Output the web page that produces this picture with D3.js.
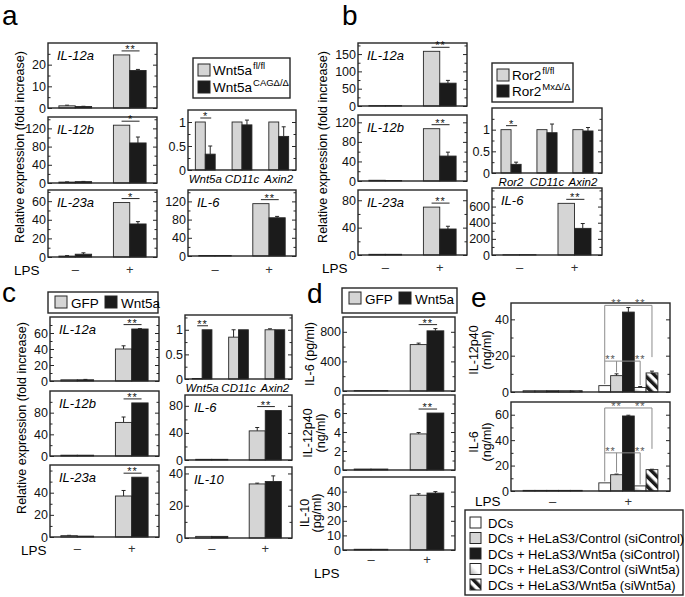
<!DOCTYPE html>
<html><head><meta charset="utf-8">
<script src="https://cdn.jsdelivr.net/npm/d3@7"></script>
<style>
body { margin: 0; background: #fff; }
svg { font-family: "Liberation Sans", Arial, sans-serif; }
</style></head><body>
<svg id="fig" width="685" height="597"></svg>
<script>
// group labels
const lps = ['–', '+'];
const genesA = ['Wnt5a', 'CD11c', 'Axin2'];
const genesB = ['Ror2', 'CD11c', 'Axin2'];
const genesC = ['Wnt5a', 'CD11c', 'Axin2'];
const legendE = ['DCs', 'DCs + HeLaS3/Control (siControl)', 'DCs + HeLaS3/Wnt5a (siControl)',
  'DCs + HeLaS3/Control (siWnt5a)', 'DCs + HeLaS3/Wnt5a (siWnt5a)'];

// values are [group][series], errors the same shape
const aIL12a = [[1.0, 0.7], [24.5, 17.3]], aIL12aErr = [[0.3, 0.1], [0, 0.5]];
const aIL12b = [[2, 3], [127, 88]], aIL12bErr = [[0.5, 0.5], [0, 13]];
const aIL23a = [[1, 3], [58.5, 35.5]], aIL23aErr = [[0.5, 1.5], [0, 2.5]];
const aGenes = [[1, 0.33], [1, 0.94], [1, 0.7]], aGenesErr = [[0, 0.17], [0, 0.1], [0, 0.2]];
const aIL6 = [[1, 1], [115, 84]], aIL6Err = [[0, 0], [0, 3]];

const bIL12a = [[1, 1], [158, 66]], bIL12aErr = [[0, 0], [0, 8]];
const bIL12b = [[1.5, 1], [107, 51]], bIL12bErr = [[0, 0], [0, 8]];
const bIL23a = [[1, 1], [70, 38]], bIL23aErr = [[0, 0], [0, 4]];
const bGenes = [[1, 0.2], [1, 0.93], [1, 0.97]], bGenesErr = [[0, 0.05], [0, 0.2], [0, 0.08]];
const bIL6 = [[3, 3], [640, 330]], bIL6Err = [[0, 0], [0, 60]];

const cIL12a = [[1.5, 1.5], [40, 65]], cIL12aErr = [[0, 0.5], [4, 0.5]];
const cIL12b = [[1.5, 1.5], [62, 98]], cIL12bErr = [[0, 0], [10, 0]];
const cIL23a = [[1.2, 0.8], [37, 54]], cIL23aErr = [[0.3, 0], [5, 0]];
const cGenes = [[0.01, 1], [0.85, 1], [1, 1]], cGenesErr = [[0, 0], [0.15, 0], [0.02, 0]];
const cIL6 = [[1, 1], [43, 73]], cIL6Err = [[0, 0], [5, 0]];
const cIL10 = [[1, 1], [33.5, 35]], cIL10Err = [[0, 0], [0.5, 3.5]];

const dIL6 = [[5, 5], [627, 813]], dIL6Err = [[0, 0], [20, 30]];
const dIL12p40 = [[0.1, 0.1], [3.8, 6.0]], dIL12p40Err = [[0, 0], [0.15, 0]];
const dIL10 = [[0.5, 0.5], [37.5, 39]], dIL10Err = [[0, 0], [1, 1]];

const eIL12p40 = [[0.7, 0.7, 0.7, 0.7, 0.7], [3.5, 9, 44, 2.5, 10.5]];
const eIL12p40Err = [[0, 0, 0, 0, 0], [0, 1, 2.5, 0.5, 1]];
const eIL6 = [[0.5, 0.5, 0.5, 0.5, 0.5], [6.4, 12.8, 59, 4, 16.8]];
const eIL6Err = [[0, 0, 0, 0, 0], [0, 0.5, 0.6, 0, 0.3]];
// significance bracket heights for panel e (upper, lower), in data units
const eBrk12 = [47.7, 17], eBrk6 = [65.3, 30];

const svg = d3.select('#fig');
const LINE = '#262626', GRAY = '#d5d5d5', BLACK = '#1b1b1b', BRK = '#8c8c8c';
const TICK_FS = 12.5;

// fills for panel e
const defs = svg.append('defs');
const grad = defs.append('linearGradient').attr('id', 'fade').attr('x1', 0).attr('y1', 1).attr('x2', 1).attr('y2', 0);
grad.append('stop').attr('offset', 0).attr('stop-color', '#a8a8a8');
grad.append('stop').attr('offset', 0.5).attr('stop-color', '#fff');
grad.append('stop').attr('offset', 1).attr('stop-color', '#fff');
const hatch = defs.append('pattern').attr('id', 'hatch').attr('patternUnits', 'userSpaceOnUse')
  .attr('width', 7).attr('height', 7).attr('patternTransform', 'rotate(-45)');
hatch.append('rect').attr('width', 7).attr('height', 7).attr('fill', '#fff');
hatch.append('rect').attr('width', 3.5).attr('height', 7).attr('fill', BLACK);
const fillsE = ['#fff', GRAY, BLACK, 'url(#fade)', 'url(#hatch)'];

function plot(f) {
  const g = svg.append('g');
  const x = d3.scaleBand().domain(f.cats).range([f.x0, f.x1]).paddingInner(f.pi || 0.4).paddingOuter(f.po || 0.2);
  const n = f.vals[0].length;
  const xs = d3.scaleBand().domain(d3.range(n)).range([0, x.bandwidth()]);
  const y = d3.scaleLinear().domain([0, f.max]).range([f.y1, f.y0]);
  const fills = f.fills || [GRAY, BLACK];
  const recs = [];
  f.cats.forEach((c, i) => f.vals[i].forEach((v, j) => recs.push({ c, j, v, e: f.errs[i][j] })));
  const cx = d => x(d.c) + xs(d.j) + xs.bandwidth() / 2;

  g.selectAll('.err').data(recs.filter(d => d.e > 0)).join('line').attr('class', 'err')
    .attr('x1', cx).attr('x2', cx).attr('y1', d => y(d.v)).attr('y2', d => y(d.v + d.e))
    .attr('stroke', LINE).attr('stroke-width', 1);
  g.selectAll('.cap').data(recs.filter(d => d.e > 0)).join('line').attr('class', 'cap')
    .attr('x1', d => cx(d) - 2).attr('x2', d => cx(d) + 2).attr('y1', d => y(d.v + d.e)).attr('y2', d => y(d.v + d.e))
    .attr('stroke', LINE).attr('stroke-width', 1);
  g.selectAll('.bar').data(recs).join('rect').attr('class', 'bar')
    .attr('x', d => x(d.c) + xs(d.j)).attr('width', xs.bandwidth())
    .attr('y', d => y(d.v)).attr('height', d => y(0) - y(d.v))
    .attr('fill', d => fills[d.j]).attr('stroke', LINE).attr('stroke-width', 0.9);

  // axes: labelled majors left, ticks both sides pointing in
  const minor = d3.range(0, f.max, f.minor || f.max * 2).filter(v => !f.major.includes(v));
  const left = g.append('g').attr('transform', `translate(${f.x0},0)`)
    .call(d3.axisLeft(y).tickValues(f.major).tickSize(-4).tickPadding(2).tickFormat(d3.format('')));
  const leftMinor = g.append('g').attr('transform', `translate(${f.x0},0)`)
    .call(d3.axisLeft(y).tickValues(minor).tickSize(-2.5).tickFormat(''));
  const right = g.append('g').attr('transform', `translate(${f.x1},0)`)
    .call(d3.axisRight(y).tickValues(f.major).tickSize(-4).tickFormat(''));
  const rightMinor = g.append('g').attr('transform', `translate(${f.x1},0)`)
    .call(d3.axisRight(y).tickValues(minor).tickSize(-2.5).tickFormat(''));
  [left, leftMinor, right, rightMinor].forEach(a => {
    a.select('.domain').remove();
    a.attr('font-size', TICK_FS).attr('font-family', null);
    a.selectAll('line').attr('stroke', LINE).attr('stroke-width', 1);
    a.selectAll('text').attr('fill', '#111');
  });

  g.append('rect').attr('x', f.x0).attr('y', f.y0).attr('width', f.x1 - f.x0).attr('height', f.y1 - f.y0)
    .attr('fill', 'none').attr('stroke', LINE).attr('stroke-width', 1.4);

  if (f.label) {
    g.append('text').attr('x', f.x0 + 9).attr('y', f.y0 + 17).attr('font-size', 13)
      .attr('font-style', 'italic').text(f.label);
  }
  if (f.catLabels) {
    g.selectAll('.cat').data(f.cats).join('text').attr('class', 'cat')
      .attr('x', d => x(d) + x.bandwidth() / 2).attr('y', f.y1 + 13).attr('text-anchor', 'middle')
      .attr('font-size', 11.5).attr('font-style', 'italic').text(d => d);
  }
  if (f.sig) {
    const top = d3.max(recs.filter(d => d.c === f.sig.cat), d => d.v + d.e);
    const ly = y(top) - 4;
    const xa = x(f.sig.cat) + x.bandwidth() * 0.25, xb = x(f.sig.cat) + x.bandwidth() * 0.8;
    g.append('line').attr('x1', xa).attr('x2', xb).attr('y1', ly).attr('y2', ly)
      .attr('stroke', LINE).attr('stroke-width', 1);
    g.append('text').attr('x', (xa + xb) / 2).attr('y', ly + 2).attr('text-anchor', 'middle')
      .attr('font-size', 11).attr('letter-spacing', 1).attr('fill', '#111').text(f.sig.text);
  }
  if (f.lpsY) {
    g.selectAll('.lps').data(f.cats).join('text').attr('class', 'lps')
      .attr('x', d => x(d) + x.bandwidth() / 2).attr('y', f.lpsY).attr('text-anchor', 'middle')
      .attr('font-size', 13).attr('fill', '#333').text(d => d);
  }
  return { x, xs, y, g };
}

function text(t, x, y, size) {
  return svg.append('text').attr('x', x).attr('y', y).attr('font-size', size).text(t);
}

// rotated axis title; one baseline x per line
function ylab(lines, xs, cy, size) {
  lines.forEach((l, i) => {
    svg.append('text').attr('transform', `translate(${xs[i]},${cy}) rotate(-90)`)
      .attr('text-anchor', 'middle').attr('font-size', size).text(l);
  });
}

function legendBox(x0, y0, x1, y1) {
  svg.append('rect').attr('x', x0).attr('y', y0).attr('width', x1 - x0).attr('height', y1 - y0)
    .attr('fill', '#fff').attr('stroke', LINE).attr('stroke-width', 1.4);
}
function swatch(x, y, fill, s) {
  svg.append('rect').attr('x', x).attr('y', y).attr('width', s || 12).attr('height', s || 12)
    .attr('fill', fill).attr('stroke', LINE).attr('stroke-width', 1);
}
function supLabel(x, y, base, sup) {
  const t = svg.append('text').attr('x', x).attr('y', y).attr('font-size', 13.5);
  t.append('tspan').text(base);
  t.append('tspan').attr('dy', -6).attr('font-size', 9.5).attr('dx', 1).text(sup);
}

// ---------- panel a ----------
text('a', 2, 25, 28);
ylab(['Relative expression (fold increase)'], [24], 147, 12.5);
plot({ x0: 48, x1: 157, y0: 43, y1: 108, max: 30, major: [0, 10, 20], minor: 5, cats: lps, vals: aIL12a, errs: aIL12aErr, label: 'IL-12a', sig: { cat: '+', text: '**' } });
plot({ x0: 48, x1: 157, y0: 117, y1: 183, max: 145, major: [0, 40, 80, 120], minor: 20, cats: lps, vals: aIL12b, errs: aIL12bErr, label: 'IL-12b', sig: { cat: '+', text: '*' } });
plot({ x0: 48, x1: 157, y0: 190, y1: 257, max: 72, major: [0, 20, 40, 60], minor: 10, cats: lps, vals: aIL23a, errs: aIL23aErr, label: 'IL-23a', sig: { cat: '+', text: '*' }, lpsY: 274 });
text('LPS', 14, 275, 13.5);
legendBox(193, 58, 290, 98);
swatch(198, 64, GRAY); supLabel(213, 75, 'Wnt5a', 'fl/fl');
swatch(198, 81, BLACK); supLabel(213, 92, 'Wnt5a', 'CAGΔ/Δ');
plot({ x0: 188, x1: 296, y0: 110, y1: 170, max: 1.25, major: [0, 0.5, 1], minor: 0.25, cats: genesA, vals: aGenes, errs: aGenesErr, pi: 0.46, po: 0.2, catLabels: true, sig: { cat: 'Wnt5a', text: '*' } });
plot({ x0: 188, x1: 296, y0: 190, y1: 256, max: 145, major: [0, 40, 80, 120], minor: 20, cats: lps, vals: aIL6, errs: aIL6Err, label: 'IL-6', sig: { cat: '+', text: '**' }, lpsY: 274 });

// ---------- panel b ----------
text('b', 342, 25, 28);
ylab(['Relative expression (fold increase)'], [327], 147, 12.5);
plot({ x0: 358, x1: 467, y0: 43, y1: 106, max: 182, major: [0, 50, 100, 150], minor: 25, cats: lps, vals: bIL12a, errs: bIL12aErr, label: 'IL-12a', sig: { cat: '+', text: '**' } });
plot({ x0: 358, x1: 467, y0: 115, y1: 181, max: 135, major: [0, 40, 80, 120], minor: 20, cats: lps, vals: bIL12b, errs: bIL12bErr, label: 'IL-12b', sig: { cat: '+', text: '**' } });
plot({ x0: 358, x1: 467, y0: 190, y1: 255, max: 95, major: [0, 40, 80], minor: 20, cats: lps, vals: bIL23a, errs: bIL23aErr, label: 'IL-23a', sig: { cat: '+', text: '**' }, lpsY: 272 });
text('LPS', 322, 273, 13.5);
legendBox(492, 63, 573, 102);
swatch(497, 69, GRAY); supLabel(512, 80, 'Ror2', 'fl/fl');
swatch(497, 85, BLACK); supLabel(512, 96, 'Ror2', 'MxΔ/Δ');
plot({ x0: 492, x1: 602, y0: 108, y1: 173, max: 1.5, major: [0, 0.5, 1], minor: 0.25, cats: genesB, vals: bGenes, errs: bGenesErr, pi: 0.44, po: 0.25, catLabels: true, sig: { cat: 'Ror2', text: '*' } });
plot({ x0: 492, x1: 602, y0: 188, y1: 255, max: 830, major: [0, 200, 400, 600], minor: 100, cats: lps, vals: bIL6, errs: bIL6Err, label: 'IL-6', sig: { cat: '+', text: '**' }, lpsY: 272 });

// ---------- panel c ----------
text('c', 2, 302, 28);
ylab(['Relative expression (fold increase)'], [26], 418, 12.5);
legendBox(48, 292, 158, 313);
swatch(55, 296, GRAY); text('GFP', 71, 308, 13.5);
swatch(105, 296, BLACK); text('Wnt5a', 121, 308, 13.5);
plot({ x0: 50, x1: 159, y0: 317, y1: 381, max: 80, major: [0, 20, 40, 60], minor: 10, cats: lps, vals: cIL12a, errs: cIL12aErr, label: 'IL-12a', sig: { cat: '+', text: '**' } });
plot({ x0: 50, x1: 159, y0: 391, y1: 456, max: 120, major: [0, 40, 80], minor: 20, cats: lps, vals: cIL12b, errs: cIL12bErr, label: 'IL-12b', sig: { cat: '+', text: '**' } });
plot({ x0: 50, x1: 159, y0: 465, y1: 537, max: 65, major: [0, 20, 40], minor: 10, cats: lps, vals: cIL23a, errs: cIL23aErr, label: 'IL-23a', sig: { cat: '+', text: '**' }, lpsY: 553 });
text('LPS', 21, 555, 13.5);
plot({ x0: 185, x1: 292, y0: 315, y1: 379, max: 1.3, major: [0, 0.5, 1], minor: 0.25, cats: genesC, vals: cGenes, errs: cGenesErr, pi: 0.46, po: 0.2, catLabels: true, sig: { cat: 'Wnt5a', text: '**' } });
plot({ x0: 185, x1: 292, y0: 395, y1: 460, max: 96, major: [0, 40, 80], minor: 20, cats: lps, vals: cIL6, errs: cIL6Err, label: 'IL-6', sig: { cat: '+', text: '**' } });
plot({ x0: 185, x1: 292, y0: 467, y1: 538, max: 44, major: [0, 20, 40], minor: 10, cats: lps, vals: cIL10, errs: cIL10Err, label: 'IL-10', lpsY: 553 });

// ---------- panel d ----------
text('d', 307, 303, 28);
legendBox(342, 288, 457, 313);
swatch(349, 292, GRAY); text('GFP', 365, 304, 13.5);
swatch(399, 292, BLACK); text('Wnt5a', 415, 304, 13.5);
ylab(['IL-6 (pg/ml)'], [314], 354, 12.5);
ylab(['IL-12p40', '(ng/ml)'], [312, 325], 433, 12.5);
ylab(['IL-10', '(pg/ml)'], [309, 321], 513, 12.5);
plot({ x0: 343, x1: 455, y0: 317, y1: 391, max: 1000, major: [0, 400, 800], minor: 200, cats: lps, vals: dIL6, errs: dIL6Err, sig: { cat: '+', text: '**' } });
plot({ x0: 343, x1: 455, y0: 395, y1: 470, max: 7.9, major: [0, 2, 4, 6], minor: 1, cats: lps, vals: dIL12p40, errs: dIL12p40Err, sig: { cat: '+', text: '**' } });
plot({ x0: 343, x1: 455, y0: 477, y1: 550, max: 50, major: [0, 10, 20, 30, 40], cats: lps, vals: dIL10, errs: dIL10Err, lpsY: 564 });
text('LPS', 314, 578, 13.5);

// ---------- panel e ----------
text('e', 471, 307, 28);
ylab(['IL-12p40', '(ng/ml)'], [478, 491], 350, 12.5);
ylab(['IL-6', '(ng/ml)'], [478, 491], 442, 12.5);
const eA = plot({ x0: 511, x1: 670, y0: 303, y1: 392, max: 49, major: [0, 20, 40], minor: 10, cats: lps, vals: eIL12p40, errs: eIL12p40Err, fills: fillsE, pi: 0.22, po: 0.16 });
const eB = plot({ x0: 511, x1: 670, y0: 402, y1: 491, max: 70, major: [0, 20, 40, 60], minor: 10, cats: lps, vals: eIL6, errs: eIL6Err, fills: fillsE, pi: 0.22, po: 0.16, lpsY: 506 });
text('LPS', 475, 506, 13.5);

function brackets(p, vals, errs, lv) {
  const c = j => p.x('+') + p.xs(j) + p.xs.bandwidth() / 2;
  const top = j => p.y(vals[1][j] + errs[1][j]) - 1.5;
  const hi = p.y(lv[0]), lo = p.y(lv[1]);
  const segs = [
    [c(0), hi, c(4), hi], [c(0), hi, c(0), top(0)], [c(4), hi, c(4), lo - 4],
    [c(0), lo, c(3), lo], [c(1), lo, c(1), top(1)], [c(3), lo, c(3), top(3)]
  ];
  p.g.selectAll('.brk').data(segs).join('line').attr('class', 'brk')
    .attr('x1', d => d[0]).attr('y1', d => d[1]).attr('x2', d => d[2]).attr('y2', d => d[3])
    .attr('stroke', BRK).attr('stroke-width', 1);
  const stars = [[(c(0) + c(2)) / 2, hi], [(c(2) + c(4)) / 2, hi], [(c(0) + c(1)) / 2, lo], [c(3), lo]];
  p.g.selectAll('.star').data(stars).join('text').attr('class', 'star')
    .attr('x', d => d[0]).attr('y', d => d[1] + 2).attr('text-anchor', 'middle')
    .attr('font-size', 11).attr('letter-spacing', 1).attr('fill', '#555').text('**');
}
brackets(eA, eIL12p40, eIL12p40Err, eBrk12);
brackets(eB, eIL6, eIL6Err, eBrk6);

legendBox(465, 510, 683, 595);
legendE.forEach((t, i) => {
  const yy = 517 + i * 15.5;
  swatch(470, yy, fillsE[i], 11);
  text(t, 488, yy + 10.5, 13);
});
</script></body></html>
